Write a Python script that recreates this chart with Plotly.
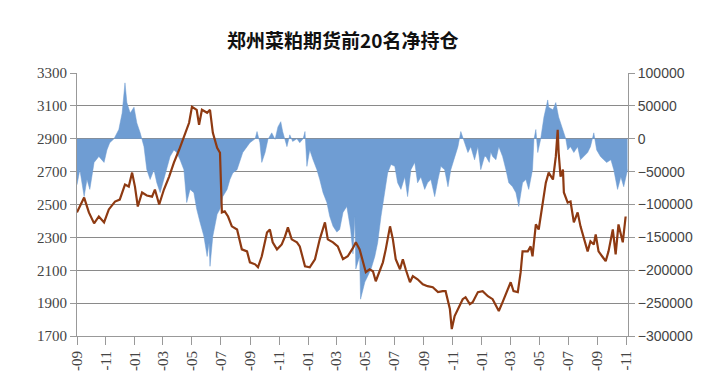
import pandas as pd
import plotly.graph_objects as go

# Price series (left axis), days since 2013-09-01
price_days = [0, 15, 25, 36, 46, 57, 67, 80, 90, 101, 109, 116, 122, 128, 137, 147, 158, 164, 173,
              183, 194, 204, 215, 225, 236, 242, 252, 257, 263, 274, 280, 286, 295, 301, 305, 311,
              318, 326, 337, 347, 358, 364, 375, 381, 389, 400, 406, 412, 421, 431, 438, 444, 452,
              463, 469, 480, 490, 501, 511, 522, 528, 539, 549, 560, 570, 581, 587, 595, 602, 608,
              616, 623, 629, 637, 644, 650, 659, 665, 671, 680, 686, 692, 701, 707, 717, 728, 738,
              749, 760, 770, 776, 785, 789, 795, 802, 812, 818, 827, 833, 844, 854, 865, 875, 882,
              888, 896, 907, 913, 919, 928, 934, 938, 949, 955, 959, 966, 972, 980, 987, 993, 1002,
              1008, 1012, 1014, 1018, 1023, 1025, 1033, 1039, 1046, 1054, 1060, 1067, 1075, 1081,
              1088, 1092, 1098, 1107, 1113, 1119, 1128, 1134, 1140, 1149, 1155]
price_values = [2452, 2542, 2452, 2385, 2427, 2391, 2470, 2518, 2530, 2621, 2609, 2694, 2609, 2488,
                2573, 2555, 2548, 2591, 2500, 2591, 2670, 2755, 2833, 2906, 2997, 3094, 3076, 2985,
                3076, 3058, 3076, 2936, 2845, 2815, 2452, 2458, 2427, 2367, 2348, 2227, 2215, 2148,
                2136, 2118, 2185, 2330, 2348, 2270, 2227, 2257, 2306, 2361, 2288, 2270, 2245, 2124,
                2118, 2167, 2288, 2391, 2288, 2270, 2245, 2167, 2185, 2236, 2270, 2227, 2148, 2088,
                2106, 2094, 2033, 2094, 2148, 2227, 2367, 2288, 2167, 2106, 2167, 2106, 2027, 2064,
                2045, 2015, 2003, 1997, 1967, 1973, 1973, 1864, 1742, 1821, 1864, 1924, 1936, 1894,
                1906, 1967, 1973, 1942, 1924, 1882, 1852, 1906, 1985, 2027, 1973, 1967, 2088, 2215,
                2215, 2245, 2185, 2379, 2348, 2488, 2633, 2694, 2652, 2791, 2955, 2815, 2670, 2712,
                2573, 2512, 2518, 2391, 2452, 2367, 2288, 2215, 2276, 2257, 2318, 2215, 2179, 2155,
                2215, 2348, 2197, 2379, 2270, 2427]

# Net position of top 20 (right axis), days since 2013-09-01
net_days = [0, 6, 15, 21, 27, 36, 46, 57, 63, 69, 78, 88, 95, 101, 105, 112, 120, 126, 133, 141,
            147, 154, 162, 168, 175, 183, 189, 196, 204, 210, 217, 225, 231, 238, 246, 252, 259,
            267, 274, 278, 280, 286, 295, 301, 307, 316, 322, 328, 337, 343, 349, 358, 364, 375,
            379, 385, 389, 396, 402, 410, 417, 423, 429, 433, 442, 448, 454, 463, 469, 476, 480,
            484, 490, 497, 505, 511, 518, 526, 532, 539, 547, 553, 560, 568, 576, 581, 585, 587,
            595, 597, 606, 612, 619, 627, 633, 640, 648, 654, 661, 669, 675, 682, 690, 696, 703,
            711, 717, 724, 732, 738, 745, 753, 760, 766, 774, 781, 787, 795, 802, 808, 816, 823,
            829, 837, 844, 850, 858, 861, 868, 871, 875, 882, 888, 896, 903, 909, 917, 924, 930,
            938, 945, 951, 959, 962, 966, 970, 976, 983, 991, 993, 1002, 1008, 1014, 1023, 1029,
            1033, 1039, 1046, 1054, 1060, 1067, 1075, 1081, 1088, 1094, 1102, 1109, 1115, 1124,
            1130, 1138, 1145, 1151, 1159]
net_values = [-70000, -47000, -88000, -62000, -77000, -36000, -27000, -36000, -17000, -6000, 0,
              14000, 39000, 85000, 55000, 39000, 48000, 24000, 9000, -12000, -47000, -62000,
              -47000, -67000, -82000, -62000, -47000, -27000, -17000, -21000, -32000, -47000,
              -97000, -77000, -82000, -107000, -127000, -148000, -179000, -158000, -194000,
              -148000, -115000, -107000, -88000, -77000, -62000, -52000, -47000, -32000, -21000,
              -12000, -6000, 0, 11000, -6000, -36000, -21000, -1000, 9000, -1000, 18000, 26000,
              11000, -12000, 6000, -4000, 0, -6000, 0, 11000, -42000, -17000, -32000, -47000,
              -62000, -82000, -97000, -118000, -133000, -142000, -138000, -112000, -103000,
              -138000, -175000, -118000, -198000, -179000, -244000, -218000, -209000, -198000,
              -179000, -158000, -118000, -77000, -52000, -39000, -42000, -67000, -77000, -58000,
              -88000, -47000, -36000, -67000, -58000, -77000, -67000, -62000, -88000, -62000,
              -42000, -47000, -73000, -47000, -27000, -12000, 11000, -6000, -21000, -12000,
              -32000, -12000, -47000, -27000, -27000, -36000, -20000, -27000, -32000, -12000,
              -27000, -47000, -67000, -73000, -82000, -103000, -67000, -62000, -77000, -47000,
              -1000, 14000, -21000, -1000, 33000, 59000, 48000, 44000, 55000, 33000, 14000, 0,
              -17000, -12000, -21000, -12000, -32000, -27000, -21000, -12000, 9000, -17000,
              -27000, -32000, -36000, -32000, -47000, -77000, -58000, -73000, -47000]

left_ticks = [1700, 1900, 2100, 2300, 2500, 2700, 2900, 3100, 3300]
right_ticks = [-300000, -250000, -200000, -150000, -100000, -50000, 0, 50000, 100000]

start = pd.Timestamp("2013-09-01")
price_dates = start + pd.to_timedelta(price_days, unit="D")
net_dates = start + pd.to_timedelta(net_days, unit="D")

fig = go.Figure()
fig.add_trace(go.Scatter(
    x=net_dates, y=net_values, yaxis="y", mode="lines", fill="tozeroy",
    line=dict(color="#6F9DD3", width=0.5), fillcolor="#6F9DD3", name="净持仓",
))
fig.add_trace(go.Scatter(
    x=price_dates, y=price_values, yaxis="y2", mode="lines",
    line=dict(color="#8E3A12", width=2.2), name="价格",
))

tickfont_left = dict(family="Liberation Serif", size=15, color="#444444")
tickfont_right = dict(family="Liberation Sans", size=14, color="#444444")

fig.update_layout(
    width=720, height=391,
    margin=dict(l=77, r=92, t=73, b=55),
    paper_bgcolor="white", plot_bgcolor="white",
    showlegend=False,
    title=dict(text="<b>郑州菜粕期货前20名净持仓</b>", x=0.476, xanchor="center",
               y=0.893, yanchor="middle", yref="container",
               font=dict(family="Noto Sans CJK SC", size=19, color="#111111")),
    xaxis=dict(
        type="date", range=["2013-09-01", "2016-11-04"],
        tick0="2013-09-01", dtick="M2", tickformat="-%m", tickangle=-90,
        ticks="outside", ticklen=8, tickcolor="#999999",
        showgrid=False, showline=True, linecolor="#999999", linewidth=1,
        tickfont=dict(family="Liberation Serif", size=15, color="#444444"),
        zeroline=False,
    ),
    yaxis=dict(
        side="right", range=[-300000, 100000], tickvals=right_ticks,
        ticktext=[f"{v}".replace("-", "−") for v in right_ticks],
        ticks="outside", ticklen=6, tickcolor="#999999",
        showline=True, linecolor="#999999", linewidth=1,
        showgrid=True, gridcolor="#8A8A8A", gridwidth=1, zeroline=False,
        tickfont=tickfont_right,
    ),
    yaxis2=dict(
        overlaying="y", side="left", range=[1700, 3300], tickvals=left_ticks,
        ticks="outside", ticklen=6, tickcolor="#999999",
        showline=True, linecolor="#999999", linewidth=1,
        showgrid=False, zeroline=False,
        tickfont=tickfont_left,
    ),
)

fig.write_html("out.html")
